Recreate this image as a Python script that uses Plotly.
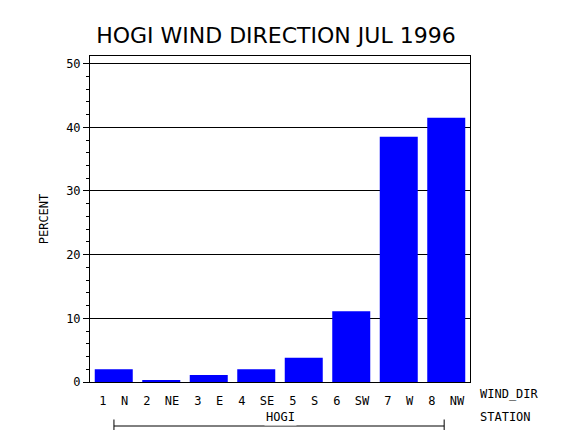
import plotly.graph_objects as go

directions = ["1  N", "2  NE", "3  E", "4  SE", "5  S", "6  SW", "7  W", "8  NW"]
percent = [2.0, 0.3, 1.1, 2.0, 3.8, 11.1, 38.5, 41.5]
y_ticks = [0, 10, 20, 30, 40, 50]

W, H = 570, 430
L, R, T, B = 82, 108, 48, 56
fnt = "DejaVu Sans Mono"

fig = go.Figure()
fig.add_trace(go.Bar(x=directions, y=percent, marker=dict(color="#0000ff", line=dict(width=0)),
                     width=0.8))

fig.update_layout(width=W, height=H, margin=dict(l=L, r=R, t=T, b=B, autoexpand=False),
                  plot_bgcolor="white", paper_bgcolor="white", showlegend=False,
                  font=dict(family=fnt, color="black", size=12),
                  title=dict(text="HOGI WIND DIRECTION JUL 1996", x=0.47, xanchor="center", y=0.955,
                             font=dict(family="DejaVu Sans", size=22)))

fig.update_xaxes(showline=True, linecolor="black", linewidth=1, mirror=True, ticks="outside",
                 ticklen=8, tickcolor="white", tickfont=dict(size=12), showgrid=False)
fig.update_yaxes(range=[0, 51.2], tickvals=y_ticks, showgrid=True, gridcolor="black", gridwidth=1,
                 showline=True, linecolor="black", linewidth=1, mirror=True,
                 ticks="outside", ticklen=6, tickcolor="black",
                 minor=dict(dtick=2, ticks="outside", ticklen=3, tickcolor="black"),
                 title=dict(text="PERCENT", font=dict(size=12), standoff=14))

# labels and station bracket
fig.add_annotation(xref="paper", yref="paper", x=1.02, y=-0.065, xanchor="left", showarrow=False,
                   text="WIND_DIR", font=dict(size=12))
fig.add_annotation(xref="paper", yref="paper", x=1.02, y=-0.135, xanchor="left", showarrow=False,
                   text="STATION", font=dict(size=12))
fig.add_annotation(xref="paper", yref="paper", x=0.5, y=-0.135, showarrow=False,
                   text="HOGI", font=dict(size=12), bgcolor="white")
fig.add_shape(type="line", xref="paper", yref="paper", x0=0.063, x1=0.932, y0=-0.135, y1=-0.135,
              line=dict(color="black", width=1), layer="below")
for xx in [0.063, 0.932]:
    fig.add_shape(type="line", xref="paper", yref="paper", x0=xx, x1=xx, y0=-0.115, y1=-0.155,
                  line=dict(color="black", width=1))

fig.write_html("out.html")
